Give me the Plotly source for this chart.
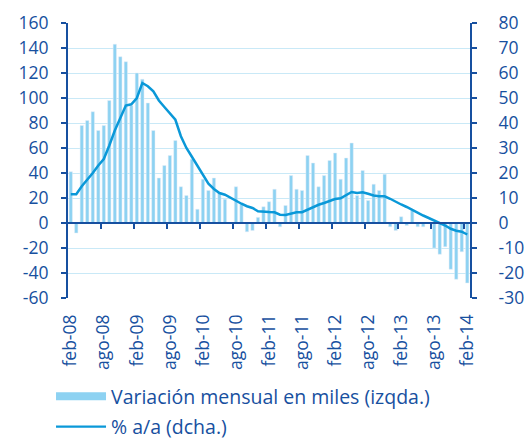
import plotly.graph_objects as go

meses = ["ene", "feb", "mar", "abr", "may", "jun", "jul", "ago", "sep", "oct", "nov", "dic"]
months = []
for yy in range(8, 15):
    for mi, m in enumerate(meses):
        if (yy == 8 and mi < 1) or (yy == 14 and mi > 1):
            continue
        months.append(f"{m}-{yy:02d}")

variacion_miles = [
    41, -8, 78, 82, 89, 74, 78, 98, 143, 133, 129, 94,
    120, 115, 96, 74, 36, 46, 54, 66, 29, 22, 51, 11,
    35, 26, 36, 24, 19, 0, 29, 15, -7, -6, 4.5, 13,
    17, 27, -3, 14, 38, 27, 26, 54, 48, 29, 38, 50,
    56, 35, 52, 64, 22, 42, 18, 31, 26, 39, -3, -6,
    5, -2, 10, -3, -3, 0, -20, -25, -19, -37, -45, -23,
    -48,
]
pct_aa = [
    11.5, 11.5, 14.7, 17.3, 20, 23, 25.6, 31, 37, 42, 47, 47.5,
    50, 56, 54.7, 52.7, 49, 46.4, 44, 41.3, 34.7, 30, 26.5, 23,
    19, 15.7, 13.6, 12, 11.3, 10, 9, 7.7, 6.7, 6, 4.7, 4.7,
    4.4, 4.3, 3.3, 3.2, 3.7, 4.3, 4.3, 5.3, 6.4, 7.3, 8, 8.8,
    9.6, 9.9, 11, 12.4, 12, 12.3, 11.7, 11, 10.7, 10.7, 9.7, 8.4,
    7.4, 6.4, 5.2, 3.9, 3.0, 2.0, 1.0, 0.2, -1.0, -2.3, -3.1, -3.5,
    -4.6,
]

left_ticks = [-60, -40, -20, 0, 20, 40, 60, 80, 100, 120, 140, 160]
right_ticks = [-30, -20, -10, 0, 10, 20, 30, 40, 50, 60, 70, 80]
left_range = [left_ticks[0], left_ticks[-1]]
right_range = [right_ticks[0], right_ticks[-1]]

idx = list(range(len(months)))
label_idx = [i for i in idx if months[i].startswith(("feb", "ago"))]
label_txt = [months[i] for i in label_idx]
boundary_ticks = [i + 5.5 for i in range(0, len(months) - 1, 6)]

DARK = "#1750A0"
BAR = "#8DD2F2"
LINE = "#0A98D8"
GRID = "#C9E9F7"
FONT = "Open Sans"
FS = 17.5
LFS = 19.5

W, H = 526, 439
ML, MR, MT, MB = 67.5, 56, 23, 141
plot_w, plot_h = W - ML - MR, H - MT - MB

fig = go.Figure()
fig.add_trace(go.Bar(x=idx, y=variacion_miles, marker_color=BAR, width=0.6,
                     showlegend=False, xaxis="x", yaxis="y"))
fig.add_trace(go.Scatter(x=idx, y=pct_aa, mode="lines", line=dict(color=LINE, width=2.5),
                         showlegend=False, xaxis="x2", yaxis="y2"))
# legend entries
fig.add_trace(go.Scatter(x=[None], y=[None], mode="lines", line=dict(color=BAR, width=8),
                         name="Variación mensual en miles (izqda.)", legendgroup="a",
                         xaxis="x", yaxis="y"))
fig.add_trace(go.Scatter(x=[None], y=[None], mode="lines", line=dict(color=LINE, width=2.2),
                         name="% a/a (dcha.)", legendgroup="b", xaxis="x", yaxis="y"))

zero_pos = (0 - left_range[0]) / (left_range[1] - left_range[0])
xr = [-0.5, len(months) - 0.5]

fig.update_layout(
    width=W, height=H, autosize=False,
    margin=dict(l=ML, r=MR, t=MT, b=MB, autoexpand=False),
    paper_bgcolor="white", plot_bgcolor="white",
    font=dict(family=FONT, size=FS, color=DARK),
    bargap=0.4,
    xaxis=dict(range=xr, tickmode="array", tickvals=label_idx, ticktext=label_txt,
               tickangle=-90, showline=False, showgrid=False, zeroline=False,
               ticks="", ticklabelstandoff=12, tickfont=dict(size=FS, color=DARK)),
    xaxis2=dict(range=xr, overlaying="x", anchor="free", position=zero_pos,
                showline=True, linecolor=DARK, linewidth=2, showgrid=False, zeroline=False,
                tickmode="array", tickvals=boundary_ticks, ticks="outside", ticklen=5,
                tickwidth=2, tickcolor=DARK, showticklabels=False),
    yaxis=dict(range=left_range, tickmode="array", tickvals=left_ticks,
               ticktext=[str(v) for v in left_ticks],
               showgrid=True, gridcolor=GRID, gridwidth=1,
               zeroline=False, showline=True, linecolor=DARK, linewidth=2,
               ticks="outside", ticklen=5, tickwidth=2, tickcolor=DARK,
               tickfont=dict(size=FS, color=DARK), ticklabelstandoff=9),
    yaxis2=dict(range=right_range, tickmode="array", tickvals=right_ticks,
                ticktext=[str(v) for v in right_ticks],
                overlaying="y", side="right", showgrid=False,
                zeroline=False, showline=True, linecolor=DARK, linewidth=2,
                ticks="outside", ticklen=5, tickwidth=2, tickcolor=DARK,
                tickfont=dict(size=FS, color=DARK), ticklabelstandoff=18),
    legend=dict(orientation="v", x=(50.5 - ML) / plot_w, xanchor="left",
                y=(MT + plot_h - 446) / plot_h, yanchor="bottom",
                font=dict(size=LFS, color=DARK), itemwidth=50, tracegroupgap=2,
                traceorder="grouped", bgcolor="rgba(0,0,0,0)"),
)

fig.write_html("out.html", config={"displayModeBar": False},
               post_script="document.body.style.margin='0';")
